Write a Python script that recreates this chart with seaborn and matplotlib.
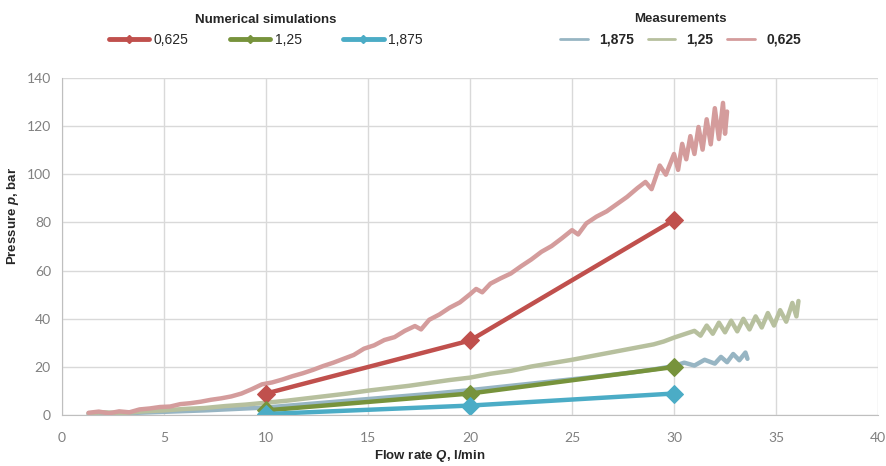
import numpy as np
import pandas as pd
import seaborn as sns
import matplotlib.pyplot as plt
from matplotlib.lines import Line2D

# ------------------------------
# Data
# ------------------------------
sim_q = [10, 20, 30]
sim_p_0625 = [9, 31, 81]
sim_p_125 = [2, 9, 20]
sim_p_1875 = [0.5, 4, 9]

meas_q_0625 = [1.3, 1.8, 2.3, 2.8, 3.3, 3.8, 4.3, 4.8, 5.3, 5.8, 6.3, 6.8, 7.3, 7.8,
               8.3, 8.8, 9.3, 9.8, 10.3, 10.8, 11.3, 11.8, 12.3, 12.8, 13.3, 13.8,
               14.3, 14.8, 15.3, 15.8, 16.3, 16.8, 17.3, 17.6, 18.0, 18.5, 19.0, 19.5,
               20.0, 20.3, 20.6, 21.0, 21.5, 22.0, 22.5, 23.0, 23.5, 24.0, 24.5, 25.0,
               25.3, 25.7, 26.2, 26.7, 27.2, 27.7, 28.2, 28.6, 28.9, 29.3, 29.6, 30.0,
               30.2, 30.4, 30.6, 30.8, 31.0, 31.2, 31.4, 31.6, 31.8, 32.0, 32.2, 32.4,
               32.5, 32.6]
meas_p_0625 = [1.0, 1.5, 0.8, 1.6, 1.2, 2.4, 2.8, 3.4, 3.6, 4.6, 5.0, 5.6, 6.4, 7.0,
               7.8, 9.0, 10.8, 12.8, 13.6, 14.8, 16.2, 17.4, 18.8, 20.4, 21.8, 23.4,
               25.0, 27.6, 29.0, 31.2, 32.4, 35.0, 37.0, 35.6, 39.6, 41.8, 44.6, 46.8,
               50.2, 52.4, 51.0, 54.6, 56.8, 58.8, 61.8, 64.6, 67.8, 70.2, 73.4, 76.8,
               75.0, 79.6, 82.4, 84.6, 87.6, 90.6, 94.2, 96.8, 93.8, 103.6, 99.8, 108.4,
               101.8, 112.6, 106.2, 115.8, 108.4, 119.6, 110.2, 122.8, 112.4, 127.4, 114.6, 129.6,
               116.8, 126.0]

meas_q_125 = [1.3, 2.0, 3.0, 4.0, 5.0, 6.0, 7.0, 8.0, 9.0, 10.0, 11.0, 12.0, 13.0, 14.0,
              15.0, 16.0, 17.0, 18.0, 19.0, 20.0, 21.0, 22.0, 23.0, 24.0, 25.0, 26.0,
              27.0, 28.0, 29.0, 29.5, 30.0, 30.5, 31.0, 31.3, 31.6, 31.9, 32.2, 32.5,
              32.8, 33.1, 33.4, 33.7, 34.0, 34.3, 34.6, 34.9, 35.2, 35.5, 35.8, 36.0, 36.1]
meas_p_125 = [0.8, 1.2, 0.9, 1.6, 2.0, 2.6, 3.0, 3.8, 4.4, 5.2, 6.0, 7.0, 8.0, 9.0,
              10.2, 11.2, 12.2, 13.4, 14.6, 15.6, 17.2, 18.4, 20.2, 21.6, 23.0, 24.6,
              26.2, 27.8, 29.4, 30.6, 32.2, 33.6, 35.0, 33.0, 37.2, 33.8, 38.4, 34.4,
              39.2, 34.8, 40.0, 35.6, 41.0, 36.4, 42.4, 37.2, 43.6, 38.8, 46.6, 41.0, 47.4]

meas_q_1875 = [1.3, 3.0, 5.0, 7.0, 9.0, 10.0, 12.0, 14.0, 16.0, 18.0, 20.0, 22.0, 24.0,
               26.0, 28.0, 29.0, 30.0, 30.5, 31.0, 31.5, 32.0, 32.3, 32.6, 32.9, 33.2,
               33.5, 33.6]
meas_p_1875 = [0.5, 0.8, 1.4, 2.0, 2.8, 3.2, 4.6, 6.0, 7.4, 8.8, 10.4, 12.2, 14.0,
               15.8, 17.8, 19.0, 20.4, 21.8, 20.6, 23.0, 21.4, 24.2, 22.0, 25.4, 22.8,
               26.0, 23.4]

labels = ["0,625", "1,25", "1,875"]
sim_colors = ["#C0504D", "#77933C", "#4BACC6"]
meas_colors = ["#D49C9C", "#B7C09E", "#97B5C3"]

sns.set_style("white")
plt.rcParams["font.family"] = ["Liberation Sans", "DejaVu Sans"]
plt.rcParams["mathtext.fontset"] = "custom"
plt.rcParams["mathtext.it"] = "Liberation Sans:bold:italic"

fig, ax = plt.subplots(figsize=(8.86, 4.66), dpi=100)
fig.subplots_adjust(left=0.070, right=0.991, top=0.833, bottom=0.109)

# measurements (noisy traces)
meas = [(meas_q_1875, meas_p_1875, meas_colors[2]),
        (meas_q_125, meas_p_125, meas_colors[1]),
        (meas_q_0625, meas_p_0625, meas_colors[0])]
for q, p, c in meas:
    sns.lineplot(x=q, y=p, ax=ax, color=c, lw=3.2, sort=False, estimator=None,
                 legend=False)

# numerical simulations
for p, c in zip([sim_p_0625, sim_p_125, sim_p_1875], sim_colors):
    sns.lineplot(x=sim_q, y=p, ax=ax, color=c, lw=3.2, marker="D", markersize=9,
                 markeredgecolor=c, sort=False, estimator=None, legend=False)

ax.set_xlim(0, 40)
ax.set_ylim(0, 140)
ax.set_xticks(range(0, 41, 5))
ax.set_yticks(range(0, 141, 20))
ax.grid(True, color="#D9D9D9", lw=1)
ax.set_axisbelow(True)
for s in ["top", "right"]:
    ax.spines[s].set_visible(False)
for s in ["left", "bottom"]:
    ax.spines[s].set_color("#BFBFBF")
ax.tick_params(axis="x", length=6, color="#BFBFBF", labelsize=10, labelcolor="#808080", pad=6)
ax.tick_params(axis="y", length=0, labelsize=10, labelcolor="#808080", pad=8)
for t in ax.get_xticklabels() + ax.get_yticklabels():
    t.set_family(["Lato", "DejaVu Sans"])

ax.set_xlabel("Flow rate $Q$, l/min", fontsize=9.5, fontweight="bold")
ax.set_ylabel("Pressure $p$, bar", fontsize=9.5, fontweight="bold")
ax.xaxis.set_label_coords(0.451, -0.097)
ax.yaxis.set_label_coords(-0.05, 0.59)

# legends
sim_handles = [Line2D([], [], color=c, lw=3.5, marker="D", markersize=4) for c in sim_colors]
leg1 = fig.legend(sim_handles, labels, loc="upper center", bbox_to_anchor=(0.30, 0.996),
                  ncol=3, frameon=False, fontsize=10, handlelength=2.9, columnspacing=3.0,
                  handletextpad=0.3, title="Numerical simulations",
                  title_fontproperties={"weight": "bold", "size": 9.5})

meas_handles = [Line2D([], [], color=c, lw=2) for c in meas_colors[::-1]]
leg2 = fig.legend(meas_handles, labels[::-1], loc="upper center", bbox_to_anchor=(0.768, 0.998),
                  ncol=3, frameon=False, fontsize=10, handlelength=2.0, columnspacing=1.0,
                  handletextpad=0.8, title="Measurements",
                  title_fontproperties={"weight": "bold", "size": 9.5},
                  prop={"weight": "bold", "size": 10})

plt.savefig("out.png", dpi=100)
